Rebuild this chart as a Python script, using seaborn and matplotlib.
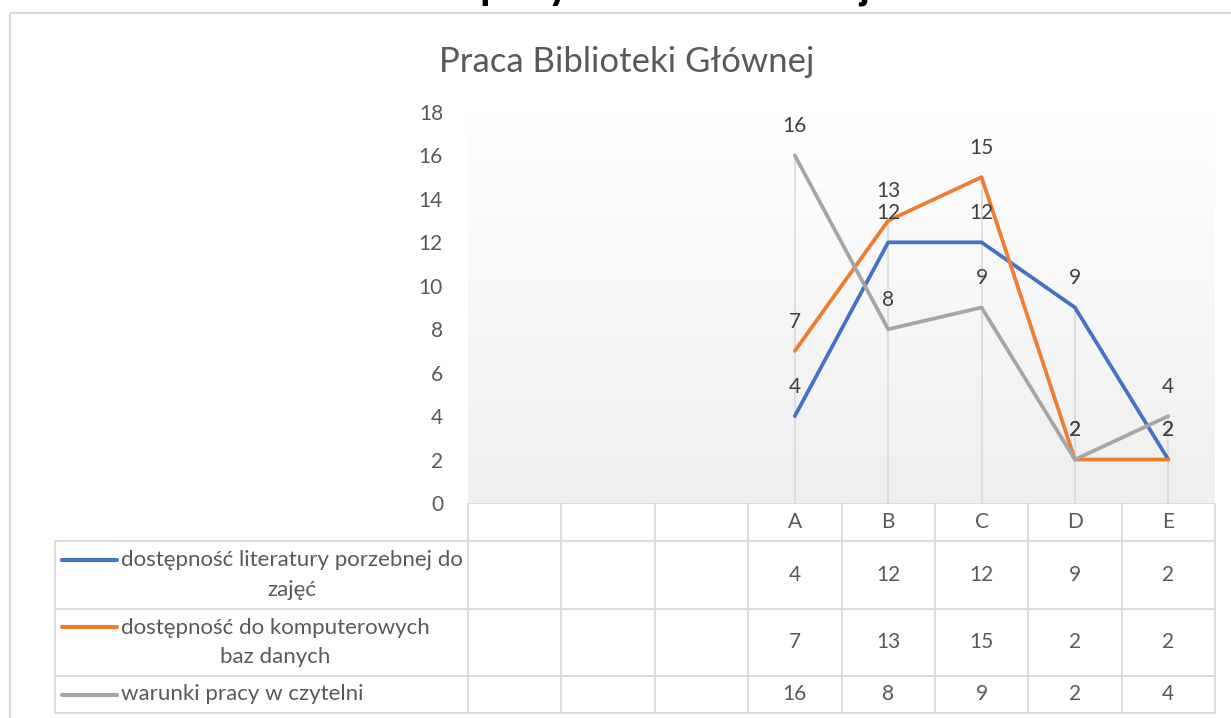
import matplotlib

matplotlib.use("Agg")
import matplotlib.pyplot as plt
import numpy as np
import pandas as pd
import seaborn as sns
from matplotlib.colors import LinearSegmentedColormap
from matplotlib.patches import Rectangle

# --- data -------------------------------------------------------------
categories = ["", "", "", "A", "B", "C", "D", "E"]
series_names = [
    "dostępność literatury porzebnej do\nzajęć",
    "dostępność do komputerowych\nbaz danych",
    "warunki pracy w czytelni",
]
literatura = [np.nan, np.nan, np.nan, 4, 12, 12, 9, 2]
komputery = [np.nan, np.nan, np.nan, 7, 13, 15, 2, 2]
czytelnia = [np.nan, np.nan, np.nan, 16, 8, 9, 2, 4]
colors = ["#4472C4", "#ED7D31", "#A5A5A5"]

series_values = [literatura, komputery, czytelnia]
df = pd.concat(
    [
        pd.DataFrame({"pos": range(len(categories)), "value": vals, "series": name})
        for name, vals in zip(series_names, series_values)
    ],
    ignore_index=True,
)

# --- layout (pixels) --------------------------------------------------
W, H = 1231, 718
PL, PR, PT, PB = 468, 1215, 112, 503
TABLE_L = 55
ROW_EDGES = [PB, 541, 609, 676, 713]
TXT = "#595959"
GRID = "#d9d9d9"
NUM_FS = 15

sns.set_theme(style="white")
plt.rcParams["font.family"] = ["Lato", "DejaVu Sans"]

fig = plt.figure(figsize=(W / 100, H / 100), dpi=100)

# overlay in pixel coordinates for border and data table
tab = fig.add_axes([0, 0, 1, 1])
tab.set_xlim(0, W)
tab.set_ylim(H, 0)
tab.axis("off")

ax = fig.add_axes([PL / W, 1 - PB / H, (PR - PL) / W, (PB - PT) / H])
n = len(categories)

# plot area gradient
cmap = LinearSegmentedColormap.from_list("bg", ["#ffffff", "#efefef"])
grad = np.linspace(1, 0, 256).reshape(-1, 1)
ax.imshow(grad, extent=[-0.5, n - 0.5, 0, 18], origin="lower", aspect="auto",
          cmap=cmap, zorder=0)

# drop lines
max_vals = df.groupby("pos")["value"].max().dropna()
ax.vlines(max_vals.index, 0, max_vals.values, color=GRID, lw=1.2, zorder=1)

sns.lineplot(data=df.dropna(), x="pos", y="value", hue="series", palette=colors,
             linewidth=2.7, legend=False, ax=ax, zorder=3)
for line in ax.lines:
    line.set_solid_joinstyle("round")

for vals in series_values:
    for i, v in enumerate(vals):
        if np.isnan(v):
            continue
        ax.annotate(f"{v:g}", (i, v), xytext=(0, 21), textcoords="offset points",
                    ha="center", va="center", fontsize=NUM_FS, color="#404040",
                    zorder=4)

ax.set_xlim(-0.5, n - 0.5)
ax.set_ylim(0, 18)
ax.set_yticks(range(0, 19, 2))
ax.tick_params(axis="y", labelsize=NUM_FS, labelcolor=TXT, length=0, pad=18)
ax.set_xticks([])
ax.set_xlabel("")
ax.set_ylabel("")
for s in ax.spines.values():
    s.set_visible(False)

# titles
fig.text(620 / W, 1 + 1 / H, "Ocena pracy Biblioteki Głównej", ha="center",
         va="baseline", fontsize=25, fontweight="heavy", color="black")
fig.text(627 / W, 1 - 62 / H, "Praca Biblioteki Głównej", ha="center",
         va="center", fontsize=25, color=TXT)

# chart border
tab.add_patch(Rectangle((10, 13), W, H, fill=False, edgecolor=GRID, lw=1.5))

# data table
cw = (PR - PL) / n
tab.hlines(ROW_EDGES[0], PL, PR, color=GRID, lw=1.3)
tab.hlines(ROW_EDGES[1:], TABLE_L, PR, color=GRID, lw=1.3)
tab.vlines([PL + k * cw for k in range(n + 1)], ROW_EDGES[0], ROW_EDGES[-1],
           color=GRID, lw=1.3)
tab.vlines(TABLE_L, ROW_EDGES[1], ROW_EDGES[-1], color=GRID, lw=1.3)

hy = (ROW_EDGES[0] + ROW_EDGES[1]) / 2
for i, c in enumerate(categories):
    tab.text(PL + (i + 0.5) * cw, hy, c, ha="center", va="center",
             fontsize=NUM_FS, color=TXT)

for r, (name, vals, col) in enumerate(zip(series_names, series_values, colors)):
    cy = (ROW_EDGES[r + 1] + ROW_EDGES[r + 2]) / 2
    nlines = name.count("\n") + 1
    ky = cy - (nlines - 1) * 31 / 2
    tab.plot([62, 117], [ky, ky], color=col, lw=3, solid_capstyle="round")
    tab.text(121, cy, name, ha="left", va="center", multialignment="center",
             fontsize=16, color=TXT, linespacing=1.6)
    for i, v in enumerate(vals):
        if np.isnan(v):
            continue
        tab.text(PL + (i + 0.5) * cw, cy, f"{v:g}", ha="center", va="center",
                 fontsize=NUM_FS, color=TXT)

fig.savefig("out.png", dpi=100)
